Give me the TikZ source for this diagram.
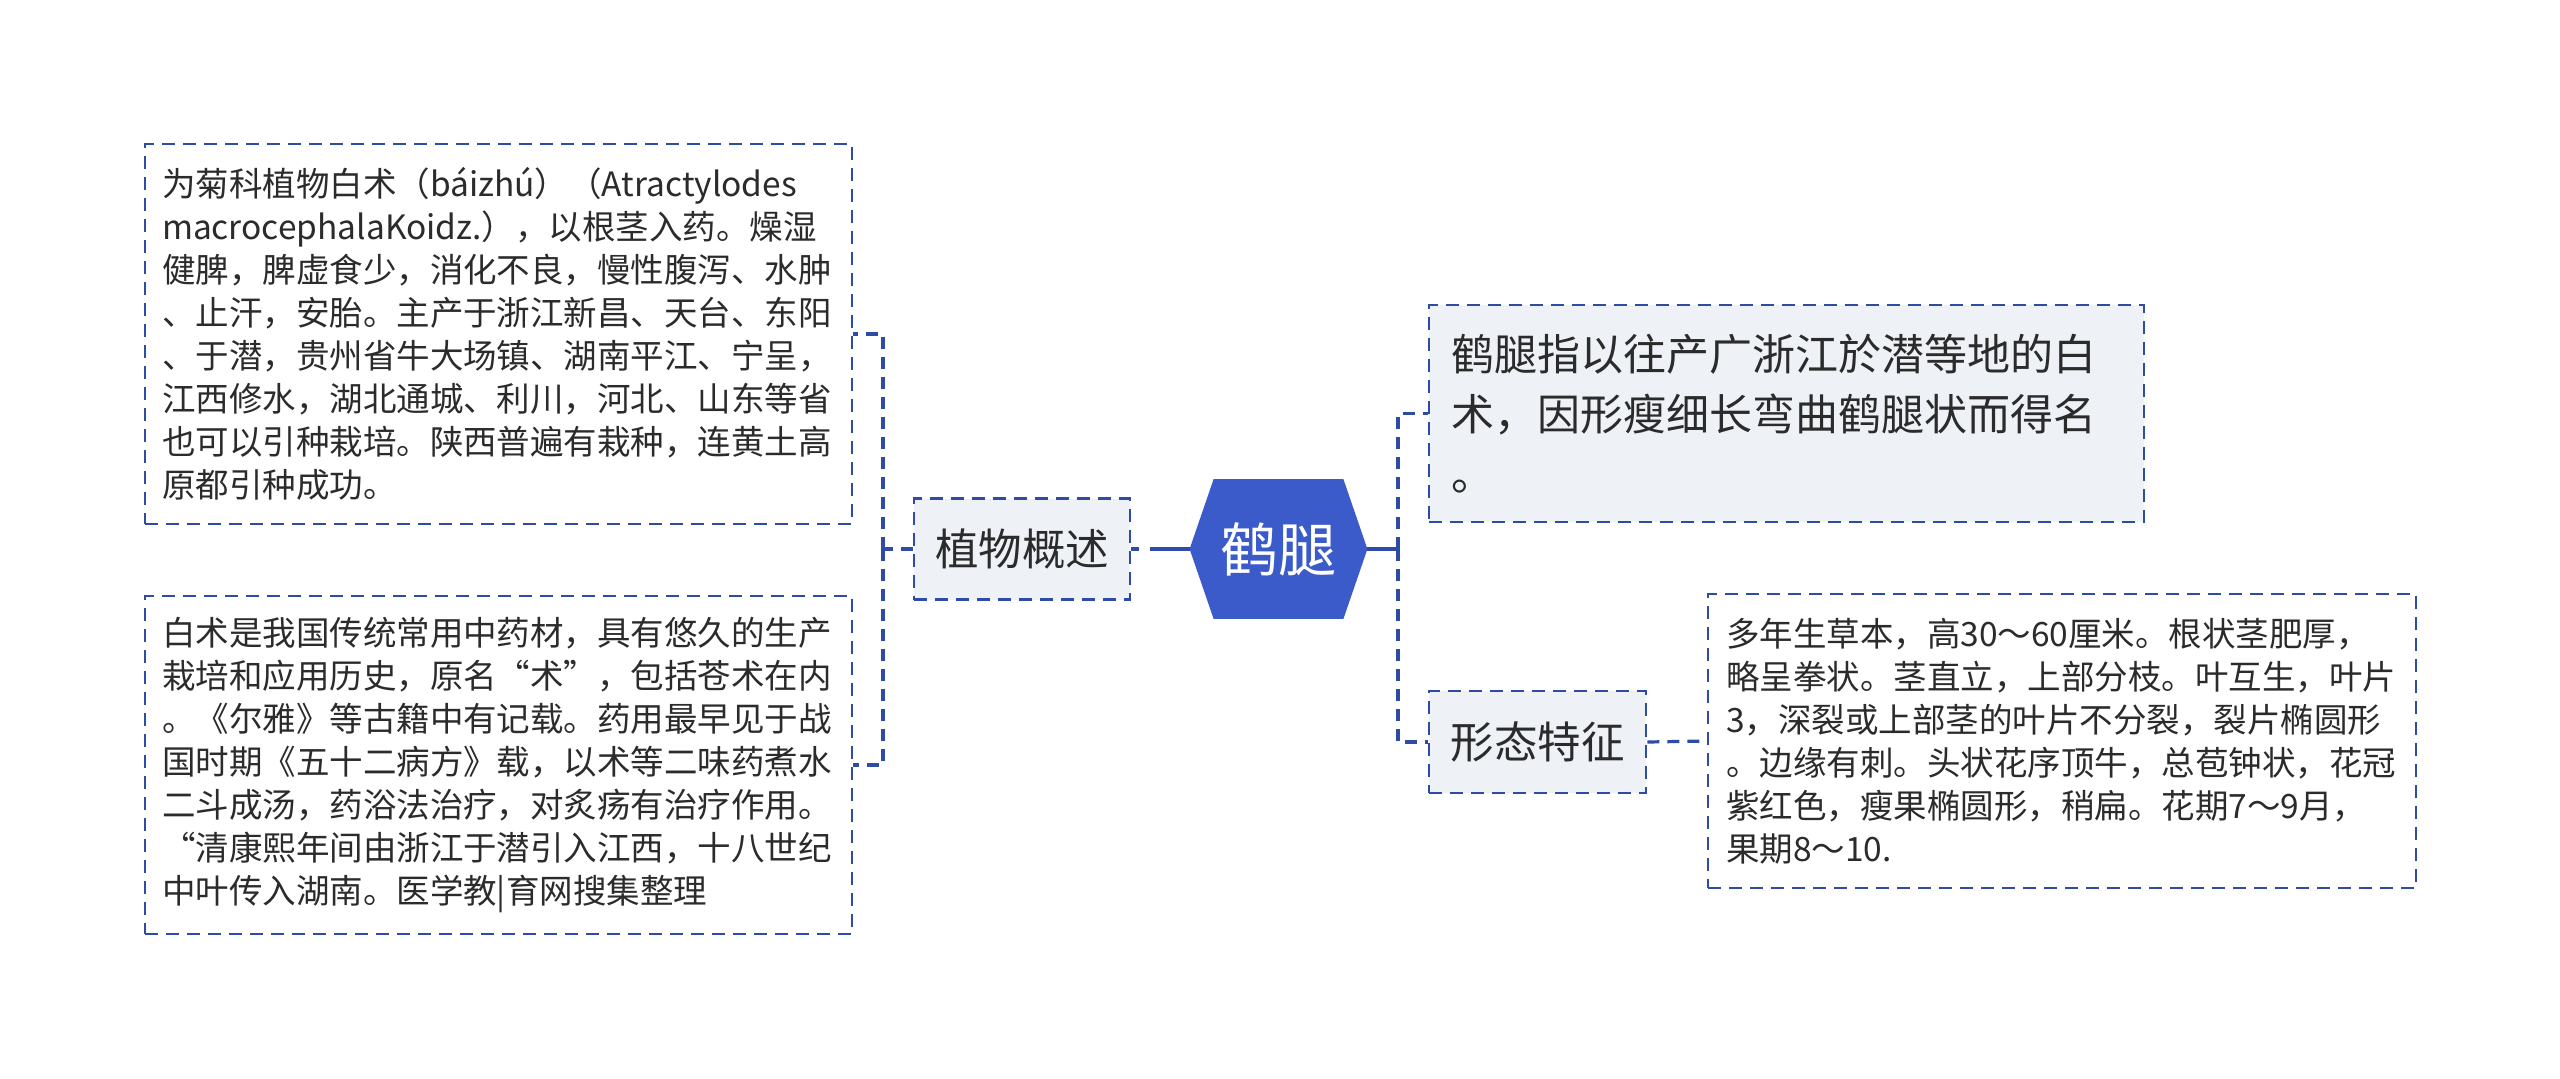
\documentclass[tikz,border=0pt]{standalone}
\usepackage{fontspec}
\setmainfont{Noto Sans CJK SC}
\usetikzlibrary{backgrounds}
\definecolor{bord}{HTML}{2E4CA6}
\definecolor{hubfill}{HTML}{3B5BCB}
\definecolor{lightfill}{HTML}{EEF1F5}
\definecolor{txt}{HTML}{2B2B2B}
\tikzset{
  boxbase/.style={draw=bord, line width=1.35pt, dash pattern=on 6.5pt off 4pt, text=txt, inner ysep=0pt},
  leaf/.style={boxbase, fill=white, align=left, font=\fontsize{16.75pt}{21.5pt}\selectfont},
  topic/.style={boxbase, fill=lightfill, align=center, inner xsep=0pt, font=\fontsize{21.75pt}{26pt}\selectfont},
  conn/.style={draw=bord, line width=1.6pt, dash pattern=on 6pt off 4pt},
  solidconn/.style={draw=bord, line width=2pt}
}
\begin{document}
\begin{tikzpicture}[x=0.5pt,y=-0.5pt]
\begin{scope}[on background layer]
\fill[white] (0,0) rectangle (2560,1078);
\end{scope}
\useasboundingbox (0,0) rectangle (2560,1078);

% central node
\node[minimum width=88.5pt, minimum height=69.5pt, inner sep=0pt, text=white,
      font=\fontsize{29pt}{34pt}\selectfont] (hub) at (1278.5,549) {鹤腿};
\begin{scope}[on background layer]
\fill[hubfill] (hub.west) -- ([xshift=12pt]hub.north west) -- ([xshift=-12pt]hub.north east)
  -- (hub.east) -- ([xshift=-12pt]hub.south east) -- ([xshift=12pt]hub.south west) -- cycle;
\end{scope}

% topics
\node[topic, minimum width=108pt, minimum height=50.5pt] (zw) at (1022,549) {植物概述};
\node[topic, minimum width=108.5pt, minimum height=51pt] (xt) at (1537.5,742) {形态特征};

% right top (definition)
\node[boxbase, fill=lightfill, align=left, text width=335.5pt, inner xsep=11pt,
      minimum height=108.5pt, font=\fontsize{21.5pt}{30pt}\selectfont] (rt) at (1786.5,413.5)
  {鹤腿指以往产广浙江於潜等地的白\\术，因形瘦细长弯曲鹤腿状而得名\\。};

% left leaves
\node[leaf, text width=336.5pt, inner xsep=8.5pt, minimum height=190pt] (lt) at (498.5,334)
  {为菊科植物白术（báizhú）（Atractylodes\\
   macrocephalaKoidz.），以根茎入药。燥湿\\
   健脾，脾虚食少，消化不良，慢性腹泻、水肿\\
   、止汗，安胎。主产于浙江新昌、天台、东阳\\
   、于潜，贵州省牛大场镇、湖南平江、宁呈，\\
   江西修水，湖北通城、利川，河北、山东等省\\
   也可以引种栽培。陕西普遍有栽种，连黄土高\\
   原都引种成功。};
\node[leaf, text width=336.5pt, inner xsep=8.5pt, minimum height=169pt] (lb) at (498.5,765)
  {白术是我国传统常用中药材，具有悠久的生产\\
   栽培和应用历史，原名“术”，包括苍术在内\\
   。《尔雅》等古籍中有记载。药用最早见于战\\
   国时期《五十二病方》载，以术等二味药煮水\\
   二斗成汤，药浴法治疗，对炙疡有治疗作用。\\
   “清康熙年间由浙江于潜引入江西，十八世纪\\
   中叶传入湖南。医学教|育网搜集整理};

% right bottom leaf
\node[leaf, text width=336pt, inner xsep=9pt, minimum height=147pt] (rb) at (2062,741)
  {多年生草本，高30～60厘米。根状茎肥厚，\\
   略呈拳状。茎直立，上部分枝。叶互生，叶片\\
   3，深裂或上部茎的叶片不分裂，裂片椭圆形\\
   。边缘有刺。头状花序顶牛，总苞钟状，花冠\\
   紫红色，瘦果椭圆形，稍扁。花期7～9月，\\
   果期8～10.};

% connectors
\coordinate (lj) at (883,549);
\coordinate (rj) at (1398,549);
\draw[conn] (zw.east) -- ([xshift=4pt]zw.east);
\draw[solidconn] ([xshift=9.5pt]zw.east) -- (hub.west);
\draw[solidconn] (hub.east) -- (rj);
\draw[conn] (rj) |- (rt.west);
\draw[conn] (rj) |- (xt.west);
\draw[conn] (zw.west) -- (lj);
\draw[conn] (lj) |- (lt.east);
\draw[conn] (lj) |- (lb.east);
\draw[conn] (xt.east) -- (rb.west);
\end{tikzpicture}
\end{document}
